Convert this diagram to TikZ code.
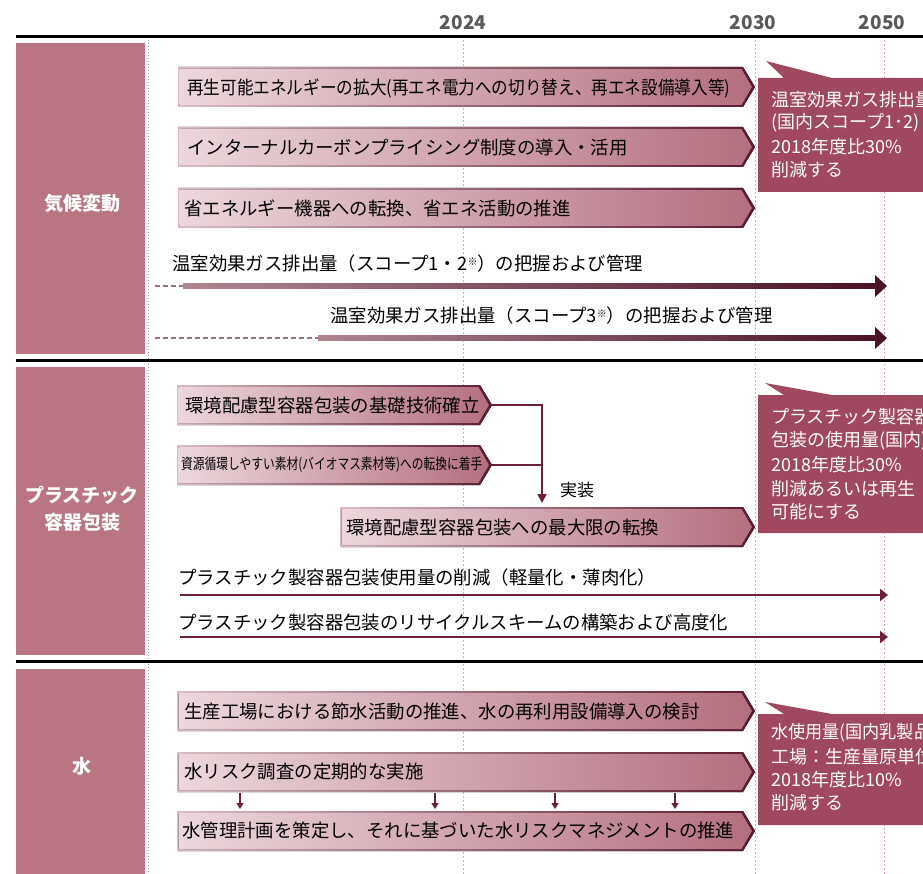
\documentclass[tikz,border=0pt]{standalone}
\usepackage{fontspec}
\setmainfont{Noto Sans CJK JP}
\usetikzlibrary{arrows.meta}
\definecolor{catbox}{HTML}{B97581}
\definecolor{callout}{HTML}{A0485F}
\definecolor{chevL}{HTML}{ECD7DC}
\definecolor{chevR}{HTML}{B46F7F}
\definecolor{chevBL}{HTML}{D9BCC3}
\definecolor{chevBR}{HTML}{5C1A30}
\definecolor{darkline}{HTML}{6B2035}
\definecolor{gradL}{HTML}{B08590}
\definecolor{gradR}{HTML}{4A1227}
\definecolor{dashcol}{HTML}{9C7480}
\definecolor{yeargray}{HTML}{595959}
\definecolor{pinkdot}{HTML}{E3A7B5}
\newcommand\chevshape[4]{%
\fill[left color=chevBL,right color=chevBR] (#1,#3) -- ({#2-12},#3) -- (#2,{(#3+#4)/2}) -- ({#2-12},#4) -- (#1,#4) -- cycle;
\fill[left color=chevL,right color=chevR] ({#1+1.5},{#3+2}) -- ({#2-13.5},{#3+2}) -- ({#2-3},{(#3+#4)/2}) -- ({#2-13.5},{#4-2}) -- ({#1+1.5},{#4-2}) -- cycle;}
\newcommand\calloutshape[4]{% top, bottom, apex x, apex y
\fill[callout] (758,#1) -- (784,#1) -- (#3,#4) -- (832,#1) -- (930,#1) -- (930,#2) -- (758,#2) -- cycle;}
\newcommand\gradarrow[3]{% start x, y, name
\fill[left color=gradL,right color=gradR] (#1,{#2-2.7}) rectangle (877,{#2+2.7});
\fill[gradR] (875,{#2-11}) -- (887,#2) -- (875,{#2+11}) -- cycle;
\coordinate (#3s) at (#1,#2);
\coordinate (#3d) at (155,#2);
\draw[dashcol,line width=1.6,dash pattern=on 5pt off 3pt] (#3d) -- (#3s);}
\begin{document}
\begin{tikzpicture}[x=1pt,y=-1pt,
  txt/.style={inner sep=0pt,anchor=west,font=\fontsize{18.4}{18.4}\selectfont,text=black},
  cattxt/.style={inner sep=0pt,align=center,text=white,font=\fontsize{19}{27}\selectfont\bfseries},
  calltxt/.style={inner sep=0pt,anchor=west,text=white,font=\fontsize{18}{18}\selectfont},
  yeartxt/.style={inner sep=0pt,text=yeargray,font=\fontsize{19}{19}\selectfont\bfseries},
  thinarrow/.style={darkline,line width=2.4,-{Triangle[length=8pt,width=12pt]}},
  smallarrow/.style={darkline,line width=1.2,-{Triangle[length=6pt,width=7pt]}},
  connector/.style={darkline,line width=1.5}]
\clip (0,0) rectangle (923,874);
\fill[white] (0,0) rectangle (923,874);
% years
\node[yeartxt] (y2024) at (463,23) {2024};
\node[yeartxt] (y2030) at (753,23) {2030};
\node[yeartxt] (y2050) at (882,23) {2050};
% category boxes
\fill[catbox] (16,43) rectangle (145,354);
\fill[catbox] (16,367) rectangle (145,655);
\fill[catbox] (16,669) rectangle (145,880);
\node[cattxt] (cat1) at (82,203) {気候変動};
\node[cattxt] (cat2) at (82,509) {プラスチック\\容器包装};
\node[cattxt] (cat3) at (82,766) {水};
% dotted verticals
\draw[gray!80,line width=1,dotted] (148,40) -- (148,874);
\foreach \xx in {463,755,884} \draw[pinkdot,line width=0.9,dash pattern=on 2pt off 2pt] (\xx,40) -- (\xx,874);
% black separators
\draw[black,line width=3] (16,37) -- (923,37);
\draw[black,line width=3] (16,360) -- (923,360);
\draw[black,line width=3] (16,661) -- (923,661);
% climate chevrons
\chevshape{178}{755}{67}{107}
\node[txt] (c1) at (187,88) {\resizebox{543pt}{\height}{再生可能エネルギーの拡大(再エネ電力への切り替え、再エネ設備導入等)}};
\chevshape{178}{755}{127}{167}
\node[txt] (c2) at (187,148) {インターナルカーボンプライシング制度の導入・活用};
\chevshape{178}{755}{188}{228}
\node[txt] (c3) at (184,208) {省エネルギー機器への転換、省エネ活動の推進};
% gradient arrows
\node[txt] (g1t) at (172,264) {温室効果ガス排出量（スコープ1・2{\fontsize{10}{10}\selectfont\raisebox{5pt}{※}}）の把握および管理};
\gradarrow{183}{286}{ga}
\node[txt] (g2t) at (330,316) {温室効果ガス排出量（スコープ3{\fontsize{10}{10}\selectfont\raisebox{5pt}{※}}）の把握および管理};
\gradarrow{318}{338}{gb}
% callout 1
\calloutshape{78}{192}{766}{61}
\node[calltxt] (k1a) at (771,100) {温室効果ガス排出量};
\node[calltxt] (k1b) at (771,123) {(国内スコープ1･2)};
\node[calltxt] (k1c) at (771,147) {2018年度比30\%};
\node[calltxt] (k1d) at (771,170) {削減する};
% plastic chevrons
\chevshape{177}{492}{385}{425}
\node[txt] (p1) at (185,405) {環境配慮型容器包装の基礎技術確立};
\chevshape{177}{492}{445}{485}
\node[txt] (p2) at (181,465) {\resizebox{301pt}{\height}{\fontsize{15}{15}\selectfont 資源循環しやすい素材(バイオマス素材等)への転換に着手}};
\chevshape{340}{755}{507}{547}
\node[txt] (p3) at (346,527) {環境配慮型容器包装への最大限の転換};
\coordinate (p1tip) at (492,405);
\coordinate (p2tip) at (492,465);
\coordinate (pjoin) at (542,465);
\coordinate (pend) at (542,503);
\draw[connector] (p1tip) -| (pjoin);
\draw[connector] (p2tip) -- (pjoin);
\draw[connector,-{Triangle[length=9pt,width=9pt]}] (pjoin) -- (pend);
\node[inner sep=0pt,font=\fontsize{17}{17}\selectfont] (impl) at (577,490) {実装};
% callout 2
\calloutshape{395}{533}{765}{383}
\node[calltxt] (k2a) at (771,417) {プラスチック製容器};
\node[calltxt] (k2b) at (771,441) {包装の使用量(国内)};
\node[calltxt] (k2c) at (771,465) {2018年度比30\%};
\node[calltxt] (k2d) at (771,489) {削減あるいは再生};
\node[calltxt] (k2e) at (771,512) {可能にする};
% plastic lines
\node[txt] (l1t) at (178,578) {プラスチック製容器包装使用量の削減（軽量化・薄肉化）};
\coordinate (l1s) at (180,595);
\coordinate (l1e) at (888,595);
\draw[thinarrow] (l1s) -- (l1e);
\node[txt] (l2t) at (178,622) {プラスチック製容器包装のリサイクルスキームの構築および高度化};
\coordinate (l2s) at (180,637);
\coordinate (l2e) at (888,637);
\draw[thinarrow] (l2s) -- (l2e);
% water chevrons
\chevshape{177}{755}{691}{731}
\node[txt] (w1) at (184,712) {生産工場における節水活動の推進、水の再利用設備導入の検討};
\chevshape{177}{755}{752}{792}
\node[txt] (w2) at (184,772) {水リスク調査の定期的な実施};
\chevshape{177}{755}{811}{851}
\node[txt] (w3) at (182,831) {水管理計画を策定し、それに基づいた水リスクマネジメントの推進};
\foreach \xx [count=\i] in {240,435,555,675} {
  \coordinate (wa\i) at (\xx,793);
  \coordinate (wb\i) at (\xx,809);
  \draw[smallarrow] (wa\i) -- (wb\i);
}
% callout 3
\calloutshape{714}{825}{765}{702}
\node[calltxt] (k3a) at (771,733) {\resizebox{160pt}{\height}{水使用量(国内乳製品}};
\node[calltxt] (k3b) at (771,757) {工場：生産量原単位};
\node[calltxt] (k3c) at (771,780) {2018年度比10\%};
\node[calltxt] (k3d) at (771,803) {削減する};
\end{tikzpicture}
\end{document}
